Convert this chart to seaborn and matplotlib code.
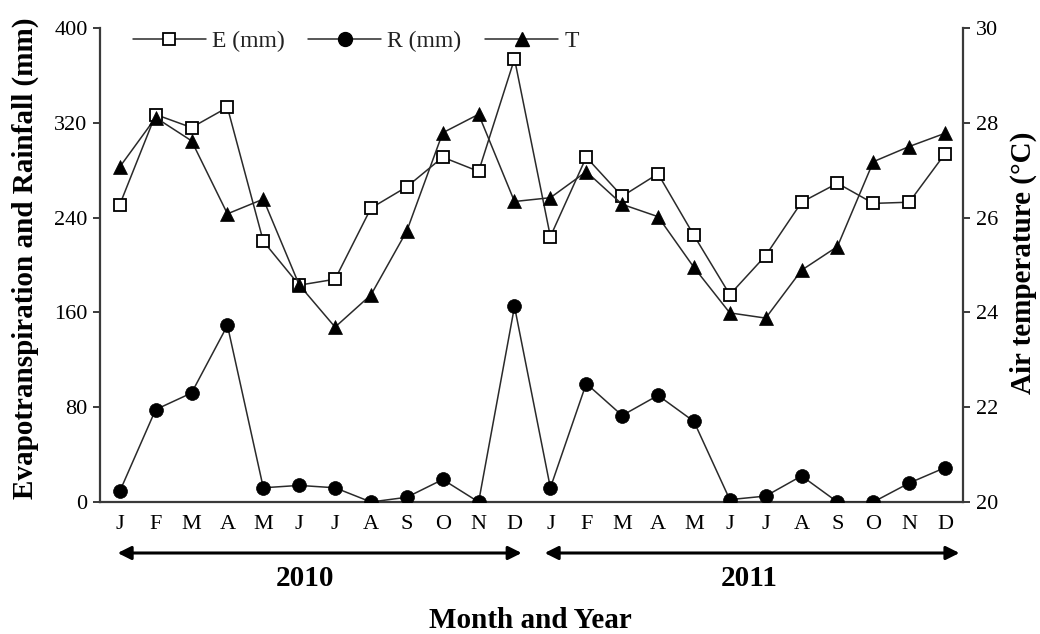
import numpy as np
import pandas as pd
import seaborn as sns
import matplotlib
matplotlib.use("Agg")
import matplotlib.pyplot as plt
from matplotlib import transforms
from matplotlib.lines import Line2D

# Monthly series, Jan 2010 - Dec 2011
months = ["J", "F", "M", "A", "M", "J", "J", "A", "S", "O", "N", "D"] * 2
years = ["2010", "2011"]
evapotranspiration = [251, 327, 316, 333, 220, 183, 188, 248, 266, 291, 279, 374,
                      224, 291, 258, 277, 225, 175, 208, 253, 269, 252, 253, 294]
rainfall = [9, 78, 92, 149, 12, 14, 12, 0, 4, 19, 0, 165,
            12, 100, 73, 90, 68, 2, 5, 22, 0, 0, 16, 29]
air_temp = [27.07, 28.11, 27.62, 26.08, 26.39, 24.58, 23.69, 24.37, 25.72, 27.79, 28.18, 26.34,
            26.42, 26.97, 26.28, 26.02, 24.95, 23.99, 23.88, 24.89, 25.39, 27.18, 27.50, 27.78]
left_ticks = [0, 80, 160, 240, 320, 400]
right_ticks = [20, 22, 24, 26, 28, 30]

df = pd.DataFrame({
    "idx": np.arange(len(months)),
    "E": evapotranspiration,
    "R": rainfall,
    "T": air_temp,
})

sns.set_style("ticks")
plt.rcParams["font.family"] = ["Liberation Serif", "DejaVu Serif"]
plt.rcParams["text.color"] = "black"
plt.rcParams["axes.labelcolor"] = "black"
plt.rcParams["xtick.color"] = "black"
plt.rcParams["ytick.color"] = "black"

line_col = "#2a2a2a"
spine_col = "#3a3a3a"

fig = plt.figure(figsize=(10.4, 6.34), dpi=100)
ax = fig.add_axes([0.0962, 0.2082, 0.8298, 0.7476])

sns.lineplot(data=df, x="idx", y="E", ax=ax, color=line_col, lw=1.1,
             marker="s", markersize=9, markerfacecolor="white",
             markeredgecolor="black", markeredgewidth=1.3, zorder=3)
sns.lineplot(data=df, x="idx", y="R", ax=ax, color=line_col, lw=1.1,
             marker="o", markersize=10, markerfacecolor="black",
             markeredgecolor="black", markeredgewidth=0.5, zorder=3)

ax2 = ax.twinx()
sns.lineplot(data=df, x="idx", y="T", ax=ax2, color=line_col, lw=1.1,
             marker="^", markersize=10, markerfacecolor="black",
             markeredgecolor="black", markeredgewidth=0.5, zorder=3)

ax.set_xlim(-0.55, 23.5)
ax.set_ylim(0, 400)
ax2.set_ylim(20, 30)
ax.set_yticks(left_ticks)
ax2.set_yticks(right_ticks)
ax.set_xticks(df["idx"])
ax.set_xticklabels(months)

for a in (ax, ax2):
    a.spines["top"].set_visible(False)
    for s in a.spines.values():
        s.set_color(spine_col)
        s.set_linewidth(1.6)
ax.spines["right"].set_visible(False)
ax2.spines["left"].set_visible(False)
ax2.spines["bottom"].set_visible(False)

ax.tick_params(axis="y", direction="out", length=5, width=1.4, color=spine_col,
               labelsize=16, pad=4, labelcolor="black")
ax.tick_params(axis="x", length=0, labelsize=16, pad=9, labelcolor="black")
ax2.tick_params(axis="y", direction="out", length=5, width=1.4, color=spine_col,
                labelsize=16, pad=4, labelcolor="black")

ax.set_xlabel("")
ax.set_ylabel("Evapotranspiration and Rainfall (mm)", fontsize=21, fontweight="bold")
ax.yaxis.set_label_coords(-0.087, 0.515)
ax.yaxis.label.set_va("center")
ax2.set_ylabel("Air temperature (°C)", fontsize=21, fontweight="bold")
ax2.yaxis.set_label_coords(1.0695, 0.505)
ax2.yaxis.label.set_va("center")

# year spans with double-headed arrows below the month labels
blend = transforms.blended_transform_factory(ax.transData, fig.transFigure)
spans = [(-0.06, 11.2), (11.84, 23.4)]
year_x = [5.15, 17.55]
arrow_y = 1 - 553 / 634
year_y = 1 - 578 / 634
for (x0, x1), xc, yr in zip(spans, year_x, years):
    ax.annotate("", xy=(x1, arrow_y), xytext=(x0, arrow_y),
                xycoords=blend, textcoords=blend, annotation_clip=False,
                arrowprops=dict(arrowstyle="<|-|>", color="black", lw=2.2,
                                mutation_scale=20, shrinkA=0, shrinkB=0))
    ax.text(xc, year_y, yr, transform=blend, ha="center", va="center",
            fontsize=21, fontweight="bold")

fig.text(0.51, 1 - 621 / 634, "Month and Year", ha="center", va="center",
         fontsize=21, fontweight="bold")

handles = [
    Line2D([], [], color=line_col, lw=1.1, marker="s", markersize=9,
           markerfacecolor="white", markeredgecolor="black", markeredgewidth=1.3),
    Line2D([], [], color=line_col, lw=1.1, marker="o", markersize=10,
           markerfacecolor="black", markeredgecolor="black"),
    Line2D([], [], color=line_col, lw=1.1, marker="^", markersize=10,
           markerfacecolor="black", markeredgecolor="black"),
]
leg = ax.legend(handles, ["E (mm)", "R (mm)", "T"], loc="upper left",
                bbox_to_anchor=(0.038, 0.995), ncol=3, frameon=False,
                handlelength=3.1, handletextpad=0.25, columnspacing=1.0,
                borderpad=0, borderaxespad=0, fontsize=17)
for t in leg.get_texts():
    t.set_color("#222222")
leg.set_zorder(10)

fig.savefig("out.png", dpi=100)
